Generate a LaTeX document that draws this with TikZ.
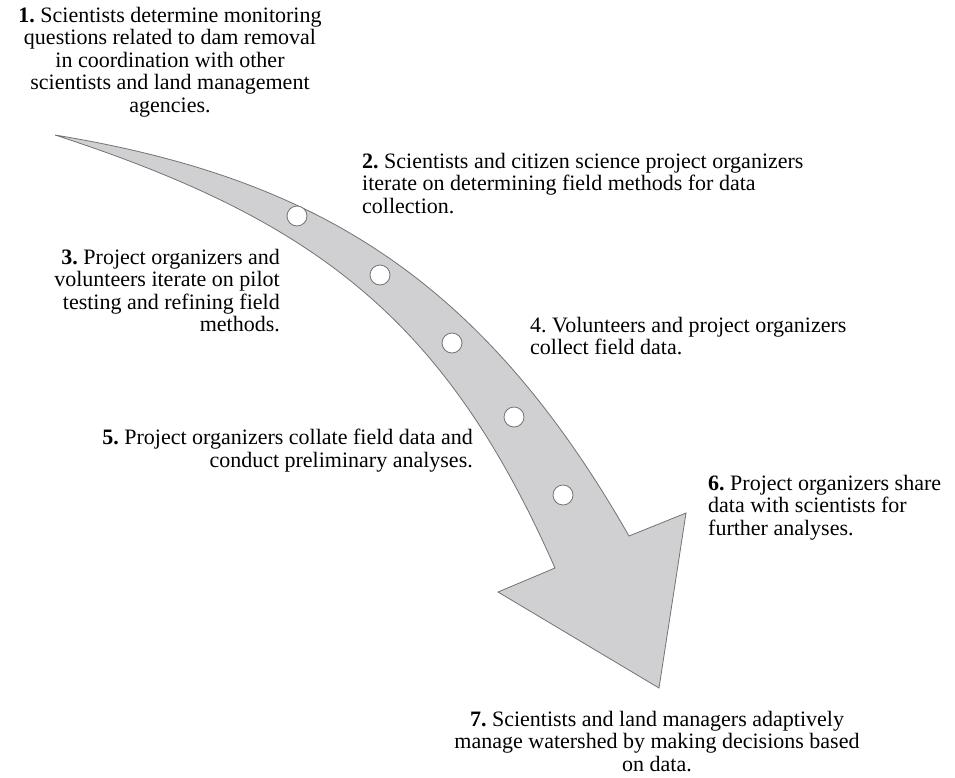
\documentclass[tikz,border=0pt]{standalone}
\usepackage{fontspec}
\setmainfont{Liberation Serif}
\frenchspacing
\definecolor{arrowfill}{RGB}{208,207,210}
\definecolor{arrowline}{RGB}{115,115,115}
\tikzset{
  lbl/.style={inner sep=0pt, font=\fontsize{22}{22.4}\selectfont},
  dot/.style={circle, fill=white, draw=arrowline, line width=0.8pt, minimum size=20pt, inner sep=0pt},
  bigarrow/.style={fill=arrowfill, draw=arrowline, line width=0.8pt, line join=miter}
}
\begin{document}
\begin{tikzpicture}[x=1pt,y=-1pt]
\useasboundingbox (0,0) rectangle (955,777);
% arrow body
\coordinate (T) at (55,135);
\coordinate (NR) at (629,536);
\coordinate (WR) at (686,513);
\coordinate (TIP) at (659,688);
\coordinate (WL) at (498,592);
\coordinate (NL) at (555,568);
\path[bigarrow] (T) .. controls (310,177) and (479,273.5) .. (NR)
  -- (WR) -- (TIP) -- (WL) -- (NL)
  .. controls (445,318.3) and (315,219.8) .. (T) -- cycle;
% dots
\node[dot] (c1) at (297,216) {};
\node[dot] (c2) at (380,275) {};
\node[dot] (c3) at (452,343) {};
\node[dot] (c4) at (514,417) {};
\node[dot] (c5) at (563,495) {};
% labels
\node[lbl, align=center, anchor=north] (t1) at (170,7) {\textbf{1.} Scientists determine monitoring\\questions related to dam removal\\in coordination with other\\scientists and land management\\agencies.};
\node[lbl, align=left, anchor=north west] (t2) at (362,153) {\textbf{2.} Scientists and citizen science project organizers\\iterate on determining field methods for data\\collection.};
\node[lbl, align=right, anchor=north east] (t3) at (280,249) {\textbf{3.} Project organizers and\\volunteers iterate on pilot\\testing and refining field\\methods.};
\node[lbl, align=left, anchor=north west] (t4) at (530,317) {4. Volunteers and project organizers\\collect field data.};
\node[lbl, align=right, anchor=north east] (t5) at (473,429) {\textbf{5.} Project organizers collate field data and\\conduct preliminary analyses.};
\node[lbl, align=left, anchor=north west] (t6) at (708,475) {\textbf{6.} Project organizers share\\data with scientists for\\further analyses.};
\node[lbl, align=center, anchor=north] (t7) at (657,711) {\textbf{7.} Scientists and land managers adaptively\\manage watershed by making decisions based\\on data.};
\end{tikzpicture}
\end{document}
